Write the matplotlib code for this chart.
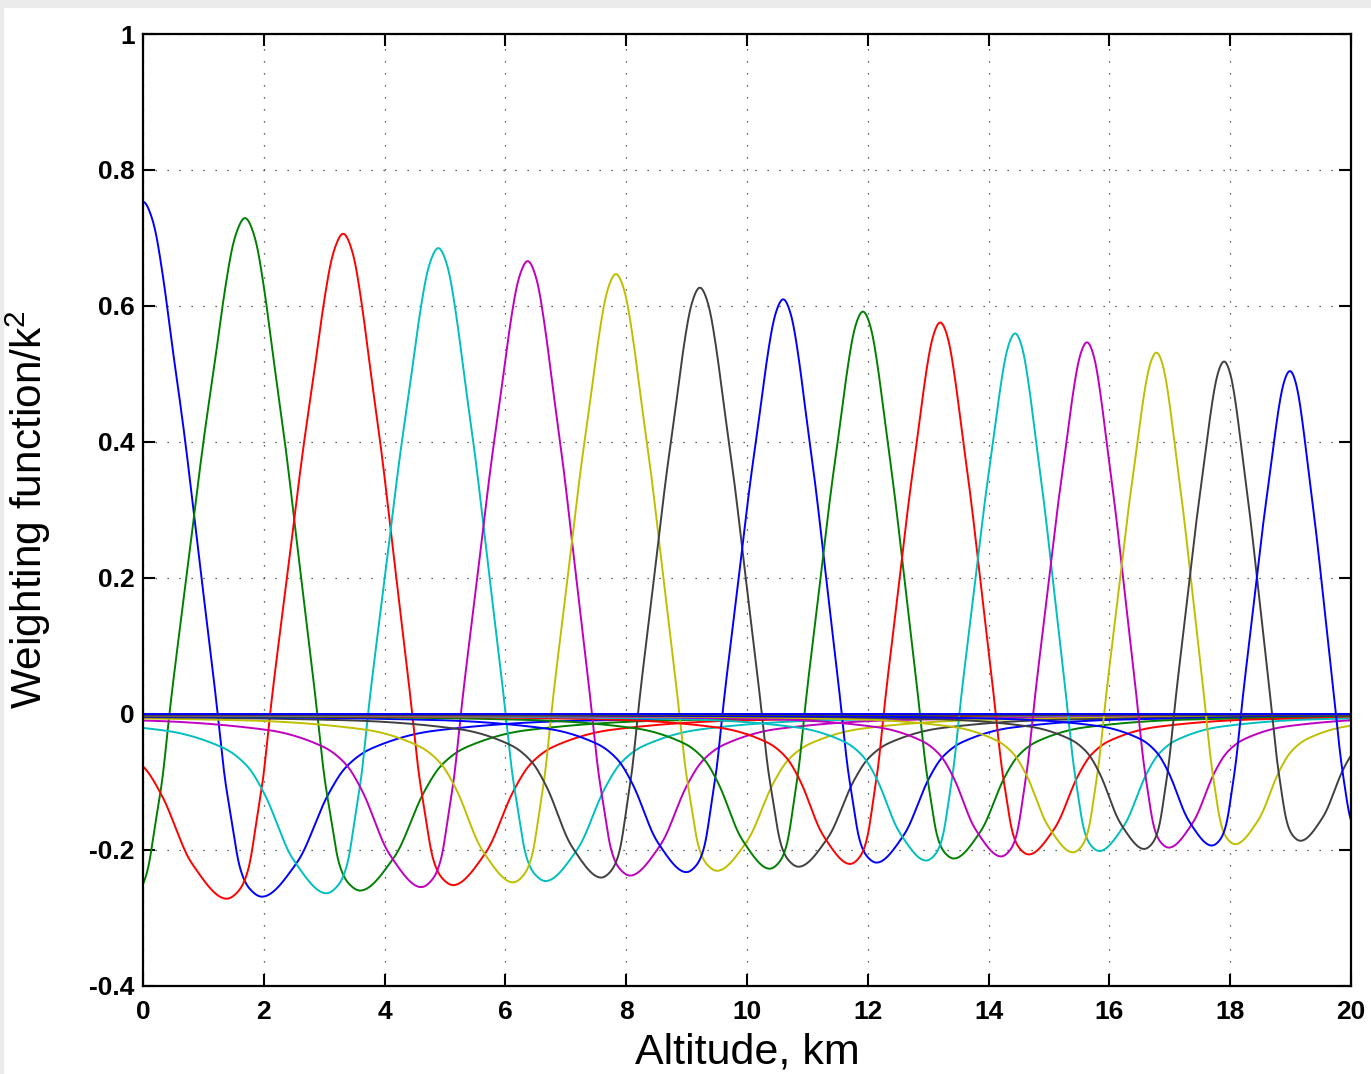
import numpy as np
import matplotlib.pyplot as plt
from matplotlib.patches import Rectangle

plt.rcParams['font.family'] = ['Liberation Sans', 'DejaVu Sans']
plt.rcParams['mathtext.fontset'] = 'custom'
plt.rcParams['mathtext.rm'] = 'Liberation Sans'
plt.rcParams['mathtext.default'] = 'regular'

# --- values ----------------------------------------------------------------
# one weighting function per layer: main peak and its two negative side lobes
peak_alt = [0.0, 1.69, 3.316, 4.89, 6.37, 7.83, 9.22, 10.60, 11.92, 13.20,
            14.44, 15.63, 16.78, 17.90, 18.99]
peak_val = [0.755, 0.731, 0.708, 0.687, 0.668, 0.649, 0.629, 0.612, 0.594,
            0.578, 0.562, 0.549, 0.534, 0.521, 0.507]
left_min_alt = [-1.96, -0.30, 1.39, 3.04, 4.61, 6.13, 7.59, 9.00, 10.38,
                11.71, 12.97, 14.21, 15.40, 16.58, 17.70]
left_min_val = [-0.285, -0.278, -0.272, -0.264, -0.255, -0.248, -0.241,
                -0.233, -0.228, -0.221, -0.216, -0.210, -0.204, -0.199, -0.194]
right_min_alt = [1.965, 3.59, 5.13, 6.66, 8.06, 9.50, 10.85, 12.14, 13.42,
                 14.66, 15.83, 16.98, 18.08, 19.16, 20.20]
right_min_val = [-0.269, -0.260, -0.252, -0.246, -0.238, -0.231, -0.225,
                 -0.219, -0.213, -0.207, -0.202, -0.197, -0.192, -0.187, -0.180]
curve_colors = ['b', 'g', 'r', 'c', 'm', 'y', 'k', 'b', 'g', 'r', 'c', 'm',
                'y', 'k', 'b']

# common shape of a curve between peak (u=0) and a side lobe minimum (u=1)
# v > 0 : fraction of the peak, v < 0 : fraction of the lobe depth
inner_u = [0.0, 0.085, 0.17, 0.25, 0.34, 0.48, 0.63, 0.69, 0.745, 0.81, 0.89, 1.0]
inner_v = [1.0, 0.96, 0.85, 0.71, 0.56, 0.29, 0.0, -0.36, -0.57, -0.83, -0.95, -1.0]
# outer tail beyond a lobe minimum, distance in units of peak-to-minimum
outer_u = [0.0, 0.3, 0.56, 0.71, 0.92, 1.45, 2.6, 5.0, 10.0, 20.0]
outer_v = [1.0, 0.81, 0.44, 0.29, 0.19, 0.092, 0.038, 0.018, 0.008, 0.004]

# functions of higher layers, lying flat on zero here
flat_levels = [-0.0012, -0.0006, -0.0003, -0.0009, 0.0, -0.0015, 0.0006]
flat_colors = ['g', 'r', 'c', 'm', 'y', 'k', 'b']

matlab = {'b': (0, 0, 1), 'g': (0, 0.5, 0), 'r': (1, 0, 0),
          'c': (0, 0.75, 0.75), 'm': (0.75, 0, 0.75),
          'y': (0.75, 0.75, 0), 'k': (0.25, 0.25, 0.25)}


def pchip(xk, yk, x):
    xk = np.asarray(xk, float)
    yk = np.asarray(yk, float)
    h = np.diff(xk)
    delta = np.diff(yk) / h
    d = np.zeros_like(yk)
    for i in range(1, len(xk) - 1):
        if delta[i - 1] * delta[i] > 0:
            w1 = 2 * h[i] + h[i - 1]
            w2 = h[i] + 2 * h[i - 1]
            d[i] = (w1 + w2) / (w1 / delta[i - 1] + w2 / delta[i])
    d[0] = delta[0]
    d[-1] = delta[-1]
    idx = np.clip(np.searchsorted(xk, x) - 1, 0, len(xk) - 2)
    t = (x - xk[idx]) / h[idx]
    h00 = 2 * t**3 - 3 * t**2 + 1
    h10 = t**3 - 2 * t**2 + t
    h01 = -2 * t**3 + 3 * t**2
    h11 = t**3 - t**2
    return (h00 * yk[idx] + h10 * h[idx] * d[idx]
            + h01 * yk[idx + 1] + h11 * h[idx] * d[idx + 1])


def key_points(i):
    c, p = peak_alt[i], peak_val[i]
    xl, yl = left_min_alt[i], left_min_val[i]
    xr, yr = right_min_alt[i], right_min_val[i]
    dl, dr = c - xl, xr - c
    xs, ys = [], []
    for u, v in zip(outer_u[::-1], outer_v[::-1]):
        xs.append(xl - u * dl); ys.append(yl * v)
    for u, v in zip(inner_u[::-1][1:], inner_v[::-1][1:]):
        xs.append(c - u * dl); ys.append(p * v if v > 0 else -v * yl)
    for u, v in zip(inner_u[1:], inner_v[1:]):
        xs.append(c + u * dr); ys.append(p * v if v > 0 else -v * yr)
    for u, v in zip(outer_u[1:], outer_v[1:]):
        xs.append(xr + u * dr); ys.append(yr * v)
    return xs, ys


W, H = 1371, 1074
fig = plt.figure(figsize=(W / 100, H / 100), dpi=100, facecolor='white')
fig.patches.append(Rectangle((0, 1 - 7 / H), 1, 7 / H, transform=fig.transFigure,
                             color='#ebebeb', zorder=-1))
fig.patches.append(Rectangle((0, 0), 3 / W, 1, transform=fig.transFigure,
                             color='#ebebeb', zorder=-1))

ax = fig.add_axes([143 / W, 1 - 986 / H, (1351 - 143) / W, (986 - 34) / H])

alt = np.linspace(-1.0, 21.0, 4400)
step = alt[1] - alt[0]
kx = np.arange(-30, 31) * step
kern = np.exp(-0.5 * (kx / 0.035) ** 2)
kern /= kern.sum()
for i in range(len(peak_alt)):
    xs, ys = key_points(i)
    w = np.convolve(pchip(xs, ys, alt), kern, mode='same')
    ax.plot(alt, w, color=matlab[curve_colors[i]], lw=1.4)
for lev, col in zip(flat_levels, flat_colors):
    ax.plot([-1, 21], [lev, lev], color=matlab[col], lw=1.4)

ax.set_xlim(0, 20)
ax.set_ylim(-0.4, 1)
ax.set_xticks(np.arange(0, 21, 2))
ax.set_yticks([-0.4, -0.2, 0, 0.2, 0.4, 0.6, 0.8, 1])
ax.set_yticklabels(['-0.4', '-0.2', '0', '0.2', '0.4', '0.6', '0.8', '1'])
ax.grid(True, color='0.2', lw=0.9, linestyle=(0, (1, 8.6)))
ax.tick_params(direction='in', length=8.6, width=1.5, top=True, right=True,
               labelsize=19, pad=6)
ax.tick_params(axis='x', pad=10)
for lab in ax.get_xticklabels() + ax.get_yticklabels():
    lab.set_fontweight('bold')
for sp in ax.spines.values():
    sp.set_linewidth(1.6)

ax.set_xlabel('Altitude, km', fontsize=31, labelpad=6)
ax.set_ylabel('Weighting function/k$^2$', fontsize=30.5, labelpad=26)

fig.savefig('out.png', dpi=100, facecolor=fig.get_facecolor())
